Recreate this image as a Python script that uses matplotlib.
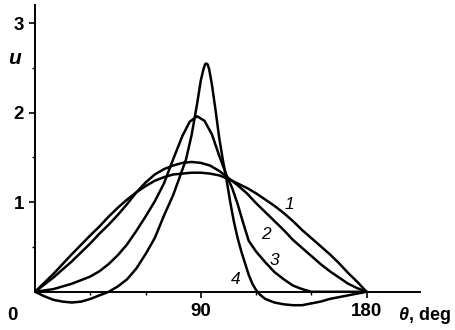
import matplotlib

matplotlib.use("Agg")
import matplotlib.pyplot as plt  # noqa: E402
from matplotlib.ticker import FixedLocator  # noqa: E402

plt.rcParams["font.family"] = ["Liberation Sans", "DejaVu Sans"]
plt.rcParams["mathtext.fontset"] = "custom"
plt.rcParams["mathtext.it"] = "Liberation Sans:italic:bold"

# Curve 1 - broad profile
theta_1 = [0, 10, 15, 20, 30, 35, 40, 45, 50, 55, 60, 65, 70, 75, 80, 85, 90,
           95, 100, 105, 110, 115, 120, 125, 130, 135, 140, 145, 150, 155, 160,
           165, 170, 175, 180]
u_1 = [0, 0.2, 0.31, 0.42, 0.63, 0.73, 0.84, 0.94, 1.03, 1.11, 1.18, 1.24,
       1.28, 1.31, 1.32, 1.33, 1.33, 1.32, 1.30, 1.26, 1.21, 1.16, 1.10, 1.03,
       0.96, 0.88, 0.79, 0.69, 0.60, 0.51, 0.42, 0.32, 0.21, 0.11, 0]

# Curve 2
theta_2 = [0, 10, 15, 20, 25, 30, 35, 40, 45, 50, 55, 60, 65, 70, 75, 80, 85,
           90, 95, 100, 105, 110, 115, 120, 125, 130, 135, 140, 145, 150, 155,
           160, 165, 170, 175, 180]
u_2 = [0, 0.16, 0.25, 0.34, 0.44, 0.54, 0.65, 0.75, 0.86, 0.98, 1.11, 1.22,
       1.31, 1.37, 1.41, 1.44, 1.45, 1.44, 1.41, 1.35, 1.27, 1.19, 1.10, 0.99,
       0.89, 0.79, 0.69, 0.58, 0.49, 0.40, 0.31, 0.23, 0.16, 0.09, 0.04, 0]

# Curve 3
theta_3 = [0, 10, 20, 30, 35, 40, 45, 50, 55, 60, 65, 70, 75, 80, 84, 88, 92,
           96, 100, 104, 107, 110, 113, 116, 120, 125, 130, 135, 140, 145, 150,
           160, 170, 180]
u_3 = [0, 0.03, 0.09, 0.17, 0.23, 0.31, 0.41, 0.53, 0.68, 0.84, 1.01, 1.21,
       1.48, 1.74, 1.90, 1.96, 1.91, 1.76, 1.52, 1.30, 1.16, 0.98, 0.77, 0.57,
       0.45, 0.33, 0.22, 0.14, 0.07, 0.03, 0, 0, 0, 0]

# Curve 4 - sharp peak with negative side lobes
theta_4 = [0, 5, 10, 15, 20, 25, 30, 35, 40, 45, 50, 55, 60, 65, 70, 75, 78,
           82, 85, 88, 90, 91.5, 92.3, 93, 93.7, 94.5, 96, 98, 100, 102, 104,
           106, 108, 110, 112, 114, 116, 118, 120, 122, 125, 130, 135, 140,
           145, 150, 155, 160, 165, 170, 175, 180]
u_4 = [0, -0.05, -0.09, -0.11, -0.12, -0.11, -0.08, -0.04, 0, 0.06, 0.14,
       0.26, 0.42, 0.60, 0.85, 1.08, 1.25, 1.48, 1.75, 2.10, 2.36, 2.49, 2.54,
       2.55, 2.54, 2.49, 2.32, 2.03, 1.72, 1.47, 1.25, 1.00, 0.78, 0.60, 0.45,
       0.32, 0.19, 0.09, 0.02, -0.03, -0.08, -0.12, -0.14, -0.15, -0.15,
       -0.13, -0.11, -0.08, -0.06, -0.04, -0.02, 0]

curves = [(theta_1, u_1), (theta_2, u_2), (theta_3, u_3), (theta_4, u_4)]
curve_labels = ["1", "2", "3", "4"]
label_pos = [(138, 0.97), (125.5, 0.64), (130, 0.35), (109, 0.14)]

fig = plt.figure(figsize=(4.55, 3.3), dpi=100)
ax = fig.add_axes([0.077, 0.048, 0.846, 0.936])

for (th, u) in curves:
    ax.plot(th, u, color="black", lw=1.8, solid_capstyle="round",
            solid_joinstyle="round")

for txt, (x, y) in zip(curve_labels, label_pos):
    ax.text(x, y, txt, fontsize=12.5, style="italic", ha="center",
            va="center")

ax.set_xlim(0, 209)
ax.set_ylim(-0.25, 3.2)

# axes look: only left and bottom lines, crossing at the origin
ax.spines["top"].set_visible(False)
ax.spines["right"].set_visible(False)
ax.spines["bottom"].set_position(("data", 0))
ax.spines["left"].set_bounds(0, 3.2)
for side in ("left", "bottom"):
    ax.spines[side].set_linewidth(1.4)

ax.set_xticks([90, 180])
ax.set_xticklabels(["90", "180"])
ax.xaxis.set_minor_locator(FixedLocator([30, 60, 120, 150]))
ax.set_yticks([1, 2, 3])
ax.set_yticklabels(["1", "2", "3"])
ax.yaxis.set_minor_locator(FixedLocator([0.5, 1.5, 2.5]))

ax.tick_params(which="major", direction="out", length=4, width=1.2,
               labelsize=13.5, pad=4)
ax.tick_params(which="minor", direction="out", length=2, width=1.0)
for lbl in ax.get_xticklabels() + ax.get_yticklabels():
    lbl.set_fontweight("bold")

# origin label and axis titles
ax.text(-12, -0.27, "0", fontsize=13.5, fontweight="bold",
        ha="center", va="center", clip_on=False)
ax.text(-11, 2.6, "$u$", fontsize=15, ha="center", va="center",
        clip_on=False)
ax.text(197, -0.27, r"$\theta$, deg", fontsize=13, fontweight="bold",
        ha="left", va="center", clip_on=False)

fig.savefig("out.png", dpi=100)
